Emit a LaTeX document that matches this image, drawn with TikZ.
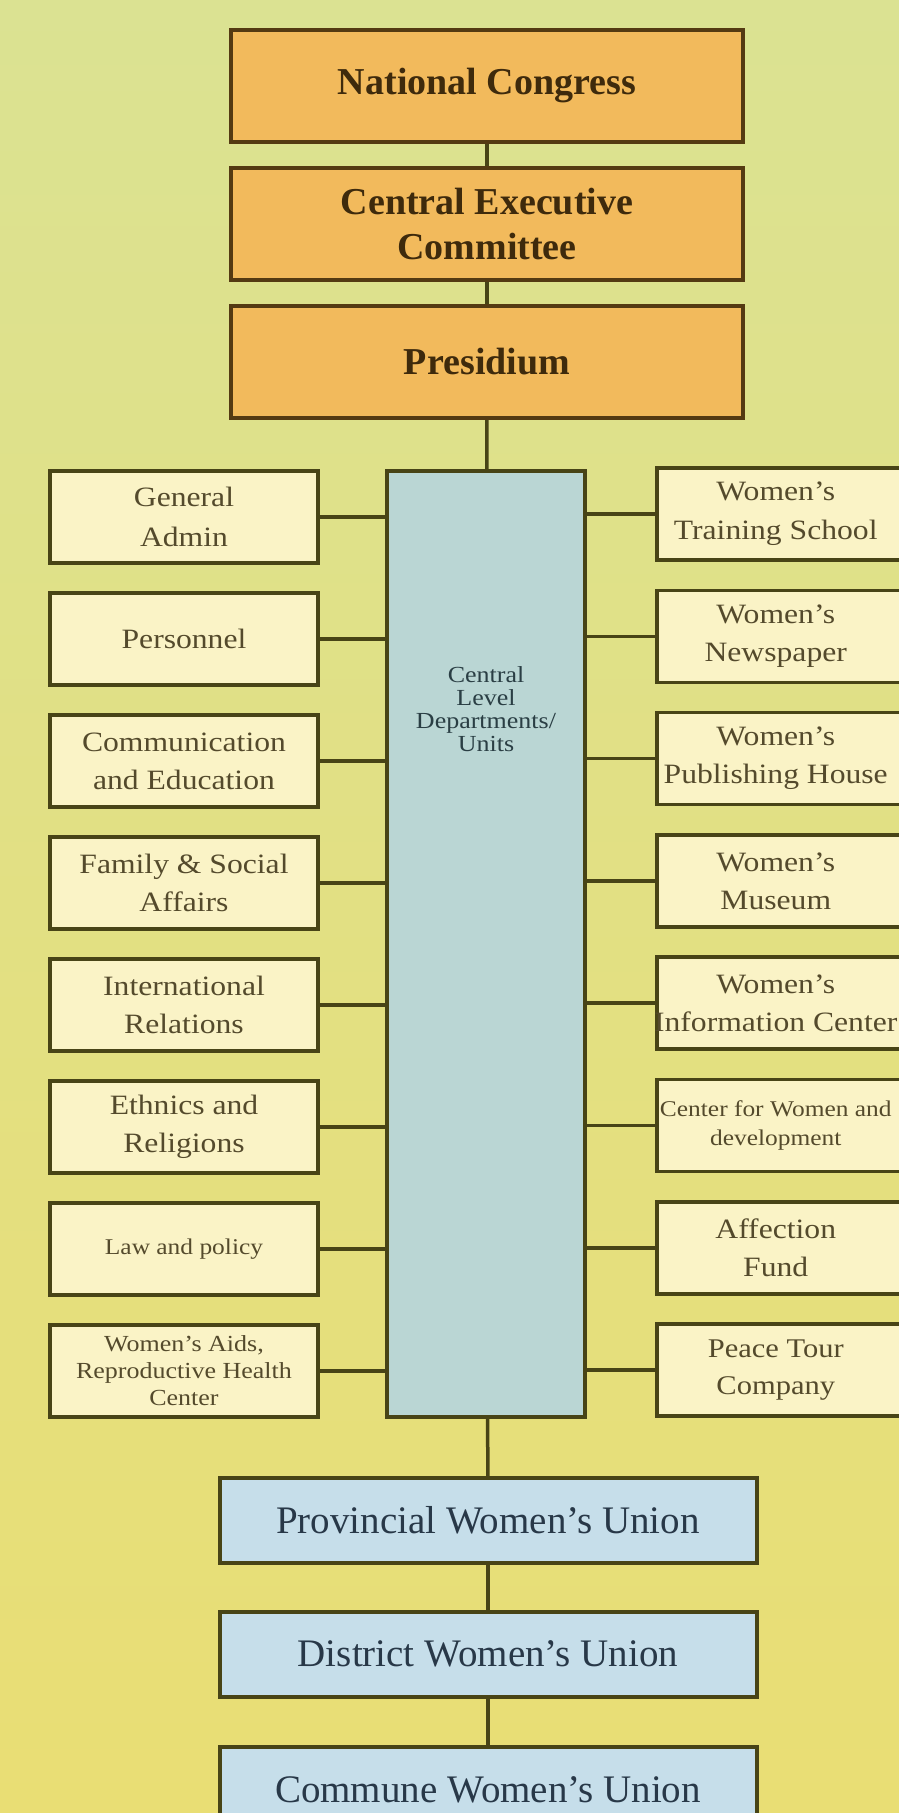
\documentclass[tikz,border=0pt]{standalone}
\usepackage{fontspec}
\setmainfont{Liberation Serif}
\newfontfamily\unitfont[Ligatures=TeX, FakeStretch=1.13]{Liberation Serif}
\usetikzlibrary{positioning}

\definecolor{bgtop}{RGB}{219,226,146}
\definecolor{bgbottom}{RGB}{233,222,116}
\definecolor{orgfill}{RGB}{242,186,92}
\definecolor{orgline}{RGB}{84,58,18}
\definecolor{orgtext}{RGB}{62,42,12}
\definecolor{unitfill}{RGB}{250,243,198}
\definecolor{unitline}{RGB}{72,68,22}
\definecolor{unittext}{RGB}{84,74,44}
\definecolor{colfill}{RGB}{186,214,212}
\definecolor{coltext}{RGB}{42,62,68}
\definecolor{localfill}{RGB}{198,222,234}
\definecolor{localtext}{RGB}{40,56,72}

\tikzset{
  orgbox/.style={draw=orgline, fill=orgfill, line width=4pt, minimum width=512pt, minimum height=112pt,
    text=orgtext, font=\bfseries\fontsize{38}{45}\selectfont, align=center},
  unitbox/.style={draw=unitline, fill=unitfill, line width=3.5pt, minimum width=268pt, minimum height=92pt,
    text=unittext, align=center, inner sep=2pt},
  localbox/.style={draw=unitline, fill=localfill, line width=4pt, minimum width=537pt, minimum height=85pt,
    text=localtext, font=\fontsize{39}{45}\selectfont},
  link/.style={draw=unitline, line width=3.5pt}
}

\begin{document}
\begin{tikzpicture}[x=1pt, y=-1pt]
  \useasboundingbox (0,0) rectangle (899,1813);
  \shade[top color=bgtop, bottom color=bgbottom] (0,0) rectangle (899,1813);
  \clip (0,0) rectangle (899,1813);

  % national level
  \node[orgbox] (congress) at (487,85.5) {National Congress};
  \node[orgbox] (executive) at (487,224) {Central Executive\\Committee};
  \node[orgbox] (presidium) at (487,362) {Presidium};

  % central departments column
  \node[draw=unitline, fill=colfill, line width=3.5pt, minimum width=198pt, minimum height=946pt] (central) at (486,944) {};
  \node[text=coltext, align=center, font=\unitfont\fontsize{23}{23}\selectfont] (centrallabel) at (486,709)
    {Central\\Level\\Departments/\\Units};

  % departments on the left
  \foreach \name/\sz/\skip/\txt [count=\i from 0] in {
      admin/28/40/{General\\Admin},
      personnel/28/38/{Personnel},
      commedu/28/38/{Communication\\and Education},
      family/28/38/{Family \& Social\\Affairs},
      intl/28/38/{International\\Relations},
      ethnics/28/38/{Ethnics and\\Religions},
      law/22.5/26/{Law and policy},
      aids/23/27/{Women's Aids,\\Reproductive Health\\Center}} {
    \node[unitbox, font=\unitfont\fontsize{\sz}{\skip}\selectfont] (\name) at (184,{517+122*\i}) {\txt};
    \draw[link] (\name.east) -- (\name.east -| central.west);
  }

  % units on the right, running off the page edge
  \foreach \name/\sz/\skip/\txt [count=\i from 0] in {
      school/28/39/{Women's\\Training School},
      paper/28/38/{Women's\\Newspaper},
      publish/28/38/{Women's\\Publishing House},
      museum/28/38/{Women's\\Museum},
      info/28/38/{Women's\\Information Center},
      devcenter/22.5/29/{Center for Women and\\development},
      fund/28/38/{Affection\\Fund},
      tour/27/37/{Peace Tour\\Company}} {
    \node[unitbox, anchor=west, inner xsep=0pt, font=\unitfont\fontsize{\sz}{\skip}\selectfont] (\name)
      at (655,{514+122.3*\i}) {\makebox[268pt][l]{\makebox[238pt]{\parbox{300pt}{\centering\txt}}}};
    \draw[link] (\name.west) -- (\name.west -| central.east);
  }

  % local unions
  \node[localbox] (provincial) at (488,1520.5) {Provincial Women's Union};
  \node[localbox] (district) at (488,1654) {District Women's Union};
  \node[localbox] (commune) at (488,1789.5) {Commune Women's Union};

  \draw[link] (congress) -- (executive);
  \draw[link] (executive) -- (presidium);
  \draw[link] (presidium) -- (central);
  \draw[link] (central) -- (provincial);
  \draw[link] (provincial) -- (district);
  \draw[link] (district) -- (commune);
\end{tikzpicture}
\end{document}
